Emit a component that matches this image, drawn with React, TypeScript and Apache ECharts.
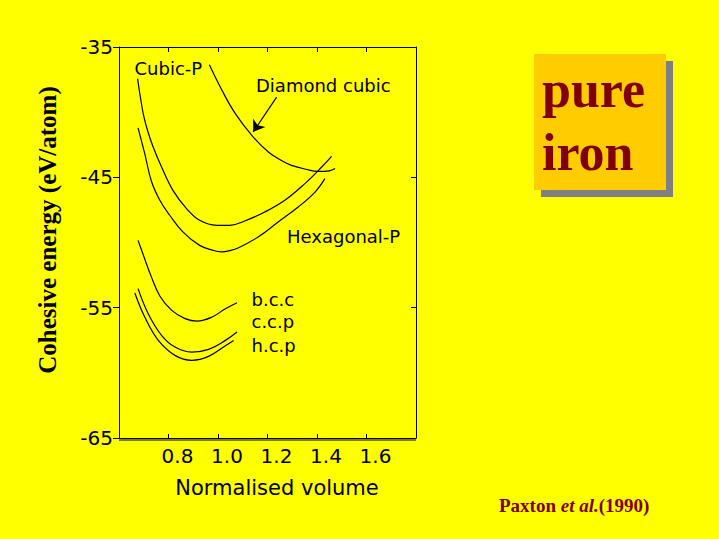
import React, { useEffect, useRef } from 'react';
import * as echarts from 'echarts';

// x: normalised volume, y: cohesive energy (eV/atom)
const xTickLabels = ['0.8', '1.0', '1.2', '1.4', '1.6'];
const yTickLabels = ['-65', '-55', '-45', '-35'];

const cubicP: [number, number][] = [
  [0.675, -37.43], [0.686, -38.8], [0.700, -40.3], [0.717, -41.5], [0.738, -42.67],
  [0.772, -44.21], [0.818, -46.0], [0.873, -47.4], [0.926, -48.3], [0.994, -48.68],
  [1.048, -48.68], [1.108, -48.35], [1.189, -47.66], [1.270, -46.76], [1.351, -45.48],
  [1.419, -44.21], [1.459, -43.39],
];
const hexagonalP: [number, number][] = [
  [0.677, -41.2], [0.704, -43.18], [0.731, -45.3], [0.765, -46.76], [0.805, -47.91],
  [0.859, -49.2], [0.926, -50.22], [0.980, -50.6], [1.014, -50.72], [1.048, -50.62],
  [1.081, -50.42], [1.162, -49.58], [1.243, -48.43], [1.324, -47.28], [1.392, -46.13],
  [1.432, -45.1],
];
const diamondCubic: [number, number][] = [
  [0.965, -36.37], [1.016, -38.32], [1.070, -40.11], [1.140, -41.85], [1.206, -43.1],
  [1.260, -43.75], [1.297, -44.08], [1.355, -44.38], [1.405, -44.55], [1.450, -44.5],
  [1.473, -44.33],
];
const bcc: [number, number][] = [
  [0.677, -49.84], [0.700, -51.05], [0.730, -52.6], [0.765, -54.1], [0.813, -55.21],
  [0.867, -55.84], [0.915, -56.03], [0.976, -55.72], [1.030, -55.08], [1.077, -54.62],
];
const ccp: [number, number][] = [
  [0.677, -53.54], [0.718, -55.46], [0.772, -57.12], [0.826, -58.02], [0.894, -58.41],
  [0.962, -58.20], [1.030, -57.51], [1.077, -56.87],
];
const hcp: [number, number][] = [
  [0.664, -53.88], [0.704, -55.72], [0.759, -57.51], [0.826, -58.66], [0.894, -59.04],
  [0.962, -58.74], [1.030, -57.92], [1.063, -57.51],
];
const arrowFrom: [number, number] = [1.237, -38.84];
const arrowTo: [number, number] = [1.142, -41.52];

const SANS = '"DejaVu Sans", "Liberation Sans", sans-serif';
const SERIF = '"Liberation Serif", "Times New Roman", serif';
const DARKRED = '#800000';

function lineSeries(name: string, data: [number, number][], extra: any = {}) {
  return {
    name,
    type: 'line',
    data,
    showSymbol: false,
    smooth: 0.4,
    silent: true,
    lineStyle: { color: '#000', width: 1.2 },
    ...extra,
  };
}

export default function App() {
  const ref = useRef<HTMLDivElement>(null);
  useEffect(() => {
    const chart = echarts.init(ref.current!, null, { renderer: 'svg' });
    const axisCommon = {
      type: 'value',
      splitLine: { show: false },
      axisLine: { show: true, onZero: false, lineStyle: { color: '#000', width: 1 } },
    };
    chart.setOption({
      animation: false,
      backgroundColor: '#FFFF00',
      grid: { left: 119, top: 47, width: 297, height: 391, show: false },
      xAxis: [
        {
          ...axisCommon,
          min: 0.6,
          max: 1.8,
          interval: 0.2,
          position: 'bottom',
          axisTick: { show: true, inside: true, length: 4, lineStyle: { color: '#000' } },
          axisLabel: {
            color: '#000',
            fontFamily: SANS,
            fontSize: 20,
            margin: 8,
            padding: [0, 0, 0, 18],
            formatter: (v: number) => {
              const s = v.toFixed(1);
              return xTickLabels.includes(s) ? s : '';
            },
          },
          name: 'Normalised volume',
          nameLocation: 'middle',
          nameGap: 39,
          nameTextStyle: { color: '#000', fontFamily: SANS, fontSize: 21, padding: [0, 0, 0, 19] },
        },
        {
          ...axisCommon,
          min: 0.6,
          max: 1.8,
          interval: 0.2,
          position: 'top',
          axisTick: { show: true, inside: true, length: 5, lineStyle: { color: '#000' } },
          axisLabel: { show: false },
        },
      ],
      yAxis: [
        {
          ...axisCommon,
          min: -65,
          max: -35,
          interval: 10,
          position: 'left',
          axisTick: { show: true, inside: false, length: 6, lineStyle: { color: '#000' } },
          axisLabel: {
            color: '#000',
            fontFamily: SANS,
            fontSize: 20,
            margin: 6,
            formatter: (v: number) => {
              const s = String(Math.round(v));
              return yTickLabels.includes(s) ? s : '';
            },
          },
        },
        {
          ...axisCommon,
          min: -65,
          max: -35,
          interval: 10,
          position: 'right',
          axisTick: { show: true, inside: true, length: 5, lineStyle: { color: '#000' } },
          axisLabel: { show: false },
        },
      ],
      series: [
        lineSeries('Cubic-P', cubicP),
        lineSeries('Hexagonal-P', hexagonalP),
        lineSeries('Diamond cubic', diamondCubic, {
          markLine: {
            silent: true,
            symbol: ['none', 'arrow'],
            symbolSize: 11,
            label: { show: false },
            lineStyle: { color: '#000', width: 1.2, type: 'solid' },
            data: [[{ coord: arrowFrom }, { coord: arrowTo }]],
          },
        }),
        lineSeries('b.c.c', bcc),
        lineSeries('c.c.p', ccp),
        lineSeries('h.c.p', hcp),
      ],
      graphic: [
        // second bottom border line
        { type: 'line', shape: { x1: 119, y1: 440, x2: 416, y2: 440 }, style: { stroke: '#000', lineWidth: 1 }, silent: true },
        // y axis title
        {
          type: 'text', x: 47, y: 230, rotation: Math.PI / 2,
          style: { text: 'Cohesive energy (eV/atom)', fill: '#000', font: `bold 25px ${SERIF}`, align: 'center', verticalAlign: 'middle' },
        },
        // curve labels
        { type: 'text', x: 134.5, y: 68, style: { text: 'Cubic-P', fill: '#000', font: `18px ${SANS}`, align: 'left', verticalAlign: 'middle' } },
        { type: 'text', x: 256, y: 85.5, style: { text: 'Diamond cubic', fill: '#000', font: `18px ${SANS}`, align: 'left', verticalAlign: 'middle' } },
        { type: 'text', x: 287, y: 236.7, style: { text: 'Hexagonal-P', fill: '#000', font: `18px ${SANS}`, align: 'left', verticalAlign: 'middle' } },
        { type: 'text', x: 251.5, y: 299, style: { text: 'b.c.c', fill: '#000', font: `18px ${SANS}`, align: 'left', verticalAlign: 'middle' } },
        { type: 'text', x: 251.5, y: 321.5, style: { text: 'c.c.p', fill: '#000', font: `18px ${SANS}`, align: 'left', verticalAlign: 'middle' } },
        { type: 'text', x: 251.5, y: 345, style: { text: 'h.c.p', fill: '#000', font: `18px ${SANS}`, align: 'left', verticalAlign: 'middle' } },
        // pure iron box
        { type: 'rect', shape: { x: 541, y: 61, width: 132, height: 136 }, style: { fill: '#808080' }, silent: true },
        { type: 'rect', shape: { x: 534, y: 54, width: 132, height: 136 }, style: { fill: '#FFCC00' }, silent: true },
        { type: 'text', x: 542, y: 89, style: { text: 'pure', fill: DARKRED, font: `bold 52px ${SERIF}`, align: 'left', verticalAlign: 'middle' } },
        { type: 'text', x: 542, y: 152, style: { text: 'iron', fill: DARKRED, font: `bold 52px ${SERIF}`, align: 'left', verticalAlign: 'middle' } },
        // citation
        {
          type: 'text', x: 499, y: 505,
          style: {
            text: '{a|Paxton }{b|et al.}{a|(1990)}',
            align: 'left', verticalAlign: 'middle',
            rich: {
              a: { fill: DARKRED, fontFamily: SERIF, fontWeight: 'bold', fontSize: 19 },
              b: { fill: DARKRED, fontFamily: SERIF, fontWeight: 'bold', fontStyle: 'italic', fontSize: 19 },
            },
          },
        },
      ],
    });
    return () => chart.dispose();
  }, []);
  return (
    <div
      ref={ref}
      style={{ position: 'absolute', left: 0, top: 0, width: 719, height: 539, background: '#FFFF00' }}
    />
  );
}
